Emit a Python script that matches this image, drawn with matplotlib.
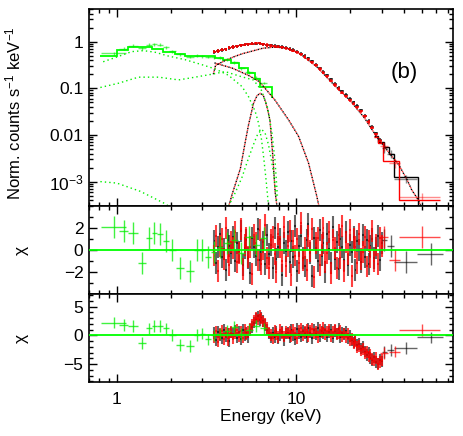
import matplotlib

matplotlib.use("Agg")
import matplotlib.pyplot as plt
import numpy as np
from matplotlib.ticker import LogLocator, MultipleLocator, NullFormatter

# ---- dense NuSTAR-like bins (keV), shared by black (FPMA) and red (FPMB) ----
nu_e = [
    3.50, 3.59, 3.67, 3.76, 3.85, 3.95, 4.04, 4.14, 4.24, 4.35,
    4.45, 4.56, 4.67, 4.79, 4.90, 5.02, 5.15, 5.27, 5.40, 5.53,
    5.67, 5.81, 5.95, 6.09, 6.24, 6.39, 6.55, 6.71, 6.87, 7.04,
    7.21, 7.39, 7.57, 7.75, 7.94, 8.14, 8.33, 8.54, 8.75, 8.96,
    9.18, 9.40, 9.63, 9.87, 10.11, 10.36, 10.61, 10.87, 11.13, 11.41,
    11.68, 11.97, 12.26, 12.56, 12.87, 13.18, 13.50, 13.83, 14.17, 14.52,
    14.87, 15.23, 15.61, 15.99, 16.38, 16.78, 17.19, 17.61, 18.04, 18.48,
    18.93, 19.39, 19.87, 20.35, 20.85, 21.36, 21.88, 22.41, 22.96, 23.52,
    24.10, 24.68, 25.29, 25.90, 26.54, 27.18, 27.85, 28.53, 29.22, 29.94,
]

# top panel fluxes on every second bin
black_flux = [
    0.60, 0.63, 0.66, 0.69, 0.73, 0.77, 0.80, 0.83, 0.86, 0.88,
    0.90, 0.91, 0.93, 0.88, 0.84, 0.83, 0.81, 0.79, 0.77, 0.74,
    0.70, 0.66, 0.61, 0.55, 0.49, 0.44, 0.38, 0.32, 0.27, 0.225,
    0.19, 0.155, 0.125, 0.103, 0.086, 0.072, 0.059, 0.050, 0.042, 0.034,
    0.026, 0.020, 0.015, 0.0108, 0.0078,
]
red_flux = [
    0.61, 0.63, 0.67, 0.69, 0.74, 0.77, 0.80, 0.84, 0.86, 0.88,
    0.90, 0.92, 0.92, 0.88, 0.85, 0.82, 0.80, 0.78, 0.76, 0.72,
    0.68, 0.64, 0.59, 0.53, 0.47, 0.42, 0.36, 0.31, 0.26, 0.215,
    0.18, 0.145, 0.118, 0.097, 0.081, 0.067, 0.055, 0.047, 0.039, 0.032,
    0.025, 0.019, 0.0143, 0.0104, 0.0076,
]

chi_black_mid = [
    0.8, -1.2, 0.3, 1.5, -0.6, 0.1, -1.8, 0.9, 0.4, -0.3,
    1.2, -1.0, 0.6, -0.2, 1.7, -1.4, 0.2, 0.9, -0.7, -2.1,
    1.1, 0.3, -0.5, 1.9, -0.9, 0.0, 0.7, -1.3, 1.4, -0.4,
    0.5, -1.6, 2.0, -0.8, 0.3, 1.0, -2.3, 0.6, -0.1, 1.6,
    -1.1, 0.8, -0.6, 2.2, -1.9, 0.4, 1.3, -0.7, -1.5, 0.9,
    2.4, -0.3, -2.4, 1.1, 0.2, -1.0, 1.8, -0.5, 0.6, -2.0,
    1.5, 0.1, -1.2, 2.1, -0.8, 0.7, -1.7, 1.0, 0.3, -0.9,
    1.6, -1.4, 0.5, -0.2, 1.2, -1.8, 0.8, 0.0, -1.1, 1.4,
    -0.6, 0.9, -1.3, 0.4, 1.0, -0.7, 0.2, 1.3, -0.9, 0.6,
]
chi_red_mid = [
    -0.5, 1.3, -1.9, 0.4, 1.0, -0.8, 2.0, -0.2, -1.4, 0.7,
    0.2, 1.6, -1.1, -0.3, 1.9, -1.7, 0.5, 1.1, -0.6, 0.3,
    -2.2, 1.4, 0.6, -0.9, 1.8, -1.3, 0.1, 2.3, -0.7, -1.6,
    0.9, 1.2, -0.4, -2.0, 1.5, 0.3, -1.0, 2.1, -1.5, 0.4,
    1.7, -2.3, 0.8, -0.5, 1.0, -1.2, 2.5, -0.9, 0.2, -1.8,
    1.3, -0.1, 1.9, -2.5, 0.6, 1.1, -1.4, 0.5, 2.0, -1.1,
    -0.3, 1.6, -2.1, 0.9, 0.2, -1.6, 1.4, -0.7, 2.2, -1.9,
    0.7, -0.4, 1.8, -2.4, 1.0, 0.3, -1.2, 1.5, -0.8, -0.2,
    1.2, -1.5, 0.8, -0.6, 1.7, -1.0, 0.5, -1.3, 1.1, 0.4,
]
chi_black_bot = [
    0.4, -0.8, 0.6, 0.1, -0.5, 0.9, -0.2, 0.3, -1.0, 0.5,
    0.2, 0.8, -0.4, 0.6, -0.7, 1.0, 0.1, 0.4, -0.3, 0.9,
    1.5, 2.2, 2.9, 3.3, 2.7, 3.1, 2.5, 1.8, 1.0, 0.3,
    -0.4, 0.4, -0.3, 0.7, -0.5, 0.1, 0.6, -0.8, 0.3, 0.5,
    -0.4, 0.9, 0.0, -0.6, 1.1, 0.3, -0.2, 0.8, 0.4, -0.3,
    1.2, 0.5, -0.5, 0.9, 0.2, 1.3, -0.1, 0.7, 0.4, 1.0,
    -0.2, 0.6, 0.9, -0.4, 0.8, 0.3, 1.1, -0.3, 0.5, 0.2,
    0.7, -0.5, -0.1, -0.8, -1.2, -0.9, -1.7, -1.5, -2.3, -2.0,
    -2.8, -3.4, -3.0, -3.9, -4.3, -3.8, -4.6, -4.9, -4.2, -4.5,
]
chi_red_bot = [
    -0.3, 0.7, -1.1, 0.2, 0.8, -0.6, 0.5, -0.9, 0.3, 0.6,
    -0.5, 0.4, 1.0, -0.2, 0.7, -0.4, 0.9, 0.2, 0.6, 1.2,
    1.8, 2.6, 3.1, 2.8, 3.5, 2.9, 2.4, 2.0, 1.3, 0.5,
    0.1, -0.5, 0.8, 0.2, -0.3, 0.9, 0.4, -0.2, 0.6, 0.3,
    0.7, -0.1, 1.0, 0.4, -0.5, 0.8, 1.2, 0.1, 0.6, 0.9,
    -0.2, 0.8, 1.1, 0.3, 0.6, -0.3, 1.0, 0.5, 1.3, 0.2,
    0.7, 0.9, -0.1, 0.6, 1.0, 0.2, 0.4, 0.8, -0.2, 0.3,
    -0.3, 0.2, -0.9, -0.6, -1.4, -1.1, -2.0, -1.8, -2.6, -2.4,
    -3.1, -2.9, -3.7, -3.3, -4.1, -4.4, -3.9, -5.0, -4.6, -4.3,
]

# sparse high-energy bins
black_hi_e = [31.0, 33.6, 41.0, 56.3]
black_hi_lo = [29.9, 32.1, 35.0, 47.0]
black_hi_hi = [32.1, 35.0, 47.0, 66.0]
black_hi_flux = [0.0052, 0.0040, 0.00115, 0.00022]
black_hi_chi_mid = [0.9, 0.35, -1.1, -0.35]
black_hi_chi_bot = [-2.9, -2.55, -2.2, -0.35]
red_hi_e = [30.7, 35.6, 50.1]
red_hi_lo = [29.4, 33.0, 37.5]
red_hi_hi = [32.4, 38.0, 63.5]
red_hi_flux = [0.0058, 0.0025, 0.00047]
red_hi_chi_mid = [1.2, -0.9, 1.2]
red_hi_chi_bot = [-3.1, -2.8, 0.9]

# model histograms at high energy
black_step_e = [27.2, 28.5, 30.7, 32.7, 34.9, 47.5, 70.0]
black_step_f = [0.0095, 0.0072, 0.0056, 0.0039, 0.00124, 0.0001]
red_step_e = [27.2, 28.5, 30.6, 37.2, 63.5]
red_step_f = [0.0092, 0.0068, 0.0027, 0.0004]

# ---- soft (green) spectrum ----
green_e = [0.96, 1.09, 1.23, 1.38, 1.51, 1.62, 1.74, 1.88, 2.03, 2.25, 2.56,
           2.81, 3.00, 3.24, 3.46, 3.75, 4.10, 4.50, 4.95, 5.45, 6.00, 6.60]
green_lo = [0.82, 1.03, 1.16, 1.31, 1.45, 1.57, 1.68, 1.81, 1.95, 2.13, 2.42,
            2.70, 2.90, 3.12, 3.36, 3.60, 3.92, 4.30, 4.72, 5.20, 5.72, 6.30]
green_hi = [1.13, 1.16, 1.31, 1.45, 1.57, 1.68, 1.81, 1.95, 2.13, 2.38, 2.70,
            2.92, 3.12, 3.36, 3.58, 3.92, 4.30, 4.72, 5.20, 5.72, 6.30, 6.90]
green_flux = [0.56, 0.70, 0.82, 0.72, 0.86, 0.88, 0.86, 0.75, 0.62, 0.53, 0.47,
              0.50, 0.49, 0.47, 0.46, 0.45, 0.42, 0.36, 0.27, 0.22, 0.17, 0.13]
green_chi_mid = [2.1, 1.7, 1.55, -1.2, 1.1, 1.55, 1.5, 0.8, 0.0, -1.65, -1.9,
                 0.0, 0.0, -0.65, -0.15, 0.3, 0.6, 0.9, -0.3, 1.2, 0.5, 1.1]
green_chi_bot = [2.2, 1.8, 1.65, -1.3, 1.2, 1.6, 1.6, 1.2, 0.05, -1.7, -1.85,
                 0.05, 0.3, -0.7, 0.0, 0.3, 0.8, 1.5, 0.2, 1.0, 1.6, 1.2]
green_step_e = [0.81, 1.0, 1.16, 1.57, 1.82, 2.11, 2.40, 3.54, 3.9, 4.3, 4.8,
                5.4, 5.9, 6.3, 7.3, 7.35]
green_step_f = [0.49, 0.66, 0.78, 0.69, 0.61, 0.54, 0.49, 0.45, 0.40, 0.34,
                0.27, 0.21, 0.16, 0.106, 0.061]

# ---- model components (dotted) ----
compt_e = [3.45, 3.55, 4.0, 4.47, 5.0, 5.54, 6.5, 7.5, 8.5, 9.6, 10.5, 13.0, 16.0,
           20.0, 24.0, 28.0, 31.0, 34.0, 37.2, 41.4, 44.0, 47.0, 50.0]
compt_f = [0.20, 0.31, 0.39, 0.47, 0.55, 0.61, 0.72, 0.76, 0.74, 0.65, 0.55, 0.29,
           0.125, 0.054, 0.023, 0.0092, 0.0056, 0.0035, 0.0023, 0.0011, 0.00066,
           0.00045, 0.00028]
disk_e = [3.5, 4.4, 5.4, 6.2, 6.7, 7.6, 9.06, 10.3, 11.7, 13.0, 13.5]
disk_f = [0.35, 0.27, 0.19, 0.14, 0.10, 0.056, 0.021, 0.0093, 0.0025, 0.00049, 0.00025]
line_e = [4.15, 4.4, 4.88, 5.2, 5.42, 5.78, 6.05, 6.3, 6.55, 6.75, 6.95, 7.14,
          7.4, 7.62, 7.85]
line_f = [0.00025, 0.00055, 0.0019, 0.0072, 0.0165, 0.048, 0.07, 0.078, 0.07,
          0.05, 0.033, 0.02, 0.0035, 0.0006, 0.00025]
g_soft_e = [0.84, 1.02, 1.21, 1.41, 1.64, 1.94, 2.40, 2.98, 3.53, 4.19, 4.98,
            5.42, 5.9, 6.16, 6.4, 6.6, 6.8, 7.0]
g_soft_f = [0.37, 0.48, 0.61, 0.64, 0.59, 0.49, 0.41, 0.32, 0.26, 0.19, 0.109,
            0.066, 0.032, 0.018, 0.008, 0.003, 0.001, 0.0003]
g_bb_e = [0.81, 1.02, 1.32, 1.71, 2.21, 2.73, 3.39, 4.01, 4.88, 5.78, 6.4, 6.9,
          7.3, 7.6, 7.85]
g_bb_f = [0.104, 0.128, 0.173, 0.173, 0.151, 0.173, 0.20, 0.228, 0.18, 0.15,
          0.09, 0.04, 0.012, 0.003, 0.0005]
g_tail_e = [0.81, 1.0, 1.35, 1.82, 1.97]
g_tail_f = [0.0010, 0.00093, 0.00062, 0.00035, 0.00029]
g_line_e = [4.19, 4.47, 4.97, 5.42, 5.8, 6.1, 6.43, 6.7, 7.0, 7.25, 7.5, 7.8]
g_line_f = [0.0003, 0.00048, 0.0012, 0.0032, 0.0065, 0.0105, 0.013, 0.011,
            0.0062, 0.003, 0.0014, 0.00035]

GREEN = "#00ee00"
DOT = (0, (1, 1.6))
DOT_OFF = (1.3, (1, 1.6))


def set_style():
    plt.rcParams.update(
        {
            "font.family": "Liberation Sans",
            "mathtext.fontset": "custom",
            "mathtext.rm": "Liberation Sans",
            "mathtext.it": "Liberation Sans:italic",
            "font.size": 12.5,
        }
    )


def style_axis(ax):
    ax.set_xscale("log")
    ax.set_xlim(0.7, 75.0)
    ax.tick_params(which="both", direction="in", top=True, right=True, width=1.0,
                   labelsize=12.5, pad=4)
    ax.tick_params(which="major", length=6)
    ax.tick_params(which="minor", length=3)
    ax.xaxis.set_minor_locator(LogLocator(base=10, subs=range(2, 10), numticks=20))
    ax.xaxis.set_minor_formatter(NullFormatter())
    for spine in ax.spines.values():
        spine.set_linewidth(1.2)


def residuals(ax, chi_b, chi_r, hi_b, hi_r, g_chi):
    e = np.array(nu_e)
    ax.errorbar(e, chi_b, xerr=0.012 * e, yerr=1.0, fmt="none", ecolor="black",
                elinewidth=1.5, alpha=0.6)
    ax.errorbar(e, chi_r, xerr=0.012 * e, yerr=1.0, fmt="none", ecolor="red",
                elinewidth=1.5, alpha=0.75)
    be = np.array(black_hi_e)
    ax.errorbar(be, hi_b, xerr=[be - black_hi_lo, np.array(black_hi_hi) - be], yerr=1.0,
                fmt="none", ecolor="black", elinewidth=1.0, alpha=0.6)
    re = np.array(red_hi_e)
    ax.errorbar(re, hi_r, xerr=[re - red_hi_lo, np.array(red_hi_hi) - re], yerr=1.0,
                fmt="none", ecolor="red", elinewidth=1.0, alpha=0.7)
    ge = np.array(green_e)
    ax.errorbar(ge, g_chi, xerr=[ge - green_lo, np.array(green_hi) - ge], yerr=1.0,
                fmt="none", ecolor=GREEN, elinewidth=1.0, alpha=0.75)
    ax.axhline(0.0, color="#00ff00", lw=1.3, zorder=5)
    ax.set_ylabel("χ")
    ax.yaxis.set_label_coords(-0.165, 0.5)


def main():
    set_style()
    fig = plt.figure(figsize=(4.63, 4.36), dpi=100)
    left, width = 0.1922, 0.787
    ax_top = fig.add_axes([left, 0.5275, width, 0.4519])
    ax_mid = fig.add_axes([left, 0.3257, width, 0.2018], sharex=ax_top)
    ax_bot = fig.add_axes([left, 0.1239, width, 0.2018], sharex=ax_top)

    # --- spectrum panel ---
    ax = ax_top
    e_top = np.array(nu_e[::2])
    for comp_e, comp_f in ((compt_e, compt_f), (disk_e, disk_f), (line_e, line_f)):
        ax.plot(comp_e, comp_f, color="black", lw=1.0, ls=DOT)
        ax.plot(comp_e, comp_f, color="red", lw=1.0, ls=DOT_OFF, alpha=0.8)
    for comp_e, comp_f in ((g_soft_e, g_soft_f), (g_bb_e, g_bb_f), (g_tail_e, g_tail_f),
                           (g_line_e, g_line_f)):
        ax.plot(comp_e, comp_f, color=GREEN, lw=1.0, ls=(0, (1, 2.2)))

    ax.errorbar(e_top, black_flux, xerr=0.024 * e_top, yerr=0.08 * np.array(black_flux),
                fmt="none", ecolor="black", elinewidth=1.3, alpha=0.7)
    ax.errorbar(e_top, red_flux, xerr=0.024 * e_top, yerr=0.08 * np.array(red_flux),
                fmt="none", ecolor="red", elinewidth=1.3, alpha=0.8)
    be = np.array(black_hi_e)
    ax.errorbar(be, black_hi_flux, xerr=[be - black_hi_lo, np.array(black_hi_hi) - be],
                yerr=0.2 * np.array(black_hi_flux), fmt="none", ecolor="black",
                elinewidth=1.0, alpha=0.45)
    re = np.array(red_hi_e)
    ax.errorbar(re, red_hi_flux, xerr=[re - red_hi_lo, np.array(red_hi_hi) - re],
                yerr=0.2 * np.array(red_hi_flux), fmt="none", ecolor="red",
                elinewidth=1.0, alpha=0.45)
    ax.stairs(black_step_f, black_step_e, color="black", lw=1.0, baseline=None)
    ax.stairs(red_step_f, red_step_e, color="red", lw=1.0, baseline=None)

    ge = np.array(green_e)
    ax.errorbar(ge, green_flux, xerr=[ge - green_lo, np.array(green_hi) - ge],
                yerr=0.07 * np.array(green_flux), fmt="none", ecolor=GREEN,
                elinewidth=1.0, alpha=0.6)
    ax.stairs(green_step_f, green_step_e, color="#00ff00", lw=1.3, baseline=None)

    ax.set_yscale("log")
    ax.set_ylim(3.0e-4, 5.0)
    style_axis(ax)
    ax.set_yticks([1e-3, 1e-2, 0.1, 1.0], [r"10$^{-3}$", "0.01", "0.1", "1"])
    ax.yaxis.set_minor_locator(LogLocator(base=10, subs=range(2, 10), numticks=20))
    ax.yaxis.set_minor_formatter(NullFormatter())
    ax.set_ylabel(r"Norm. counts s$^{-1}$ keV$^{-1}$", fontsize=12)
    ax.yaxis.set_label_coords(-0.18, 0.47)
    ax.tick_params(labelbottom=False)
    ax.text(0.865, 0.68, "(b)", transform=ax.transAxes, ha="center", va="center",
            fontsize=16)

    # --- residual panels ---
    residuals(ax_mid, chi_black_mid, chi_red_mid, black_hi_chi_mid, red_hi_chi_mid,
              green_chi_mid)
    ax_mid.set_ylim(-4.0, 4.0)
    style_axis(ax_mid)
    ax_mid.yaxis.set_minor_locator(MultipleLocator(1))
    ax_mid.set_yticks([-2, 0, 2], ["\u22122", "0", "2"])
    ax_mid.tick_params(labelbottom=False)

    residuals(ax_bot, chi_black_bot, chi_red_bot, black_hi_chi_bot, red_hi_chi_bot,
              green_chi_bot)
    ax_bot.set_ylim(-8.1, 7.2)
    style_axis(ax_bot)
    ax_bot.yaxis.set_minor_locator(MultipleLocator(1))
    ax_bot.set_yticks([-5, 0, 5], ["\u22125", "0", "5"])
    ax_bot.set_xticks([1, 10], ["1", "10"])
    ax_bot.tick_params(axis="x", pad=7)
    ax_bot.set_xlabel("Energy (keV)", labelpad=2)

    fig.savefig("out.png", dpi=100)
    plt.close(fig)


if __name__ == "__main__":
    main()
